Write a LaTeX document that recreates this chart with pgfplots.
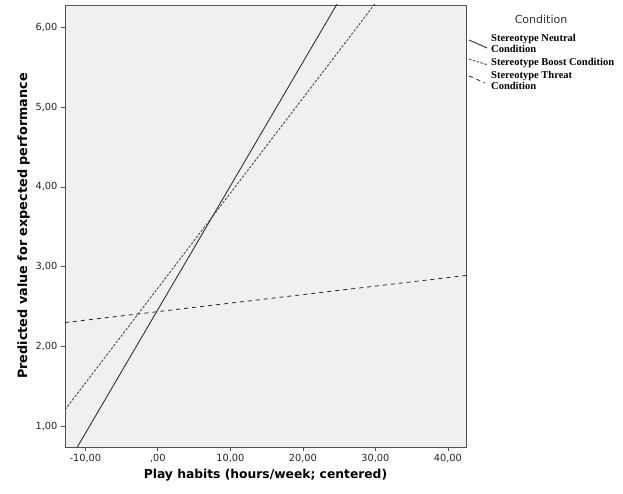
\documentclass[border=0pt]{standalone}
\usepackage{pgfplots}
\pgfplotsset{compat=1.18}
\usepackage{fontspec}
\setmainfont{DejaVu Sans}
\newfontfamily\legfont{Liberation Serif}
\definecolor{bgc}{HTML}{F0F0F0}
\definecolor{axc}{HTML}{505050}
\begin{document}
\begin{tikzpicture}
\begin{axis}[
  scale only axis, width=401pt, height=442pt,
  xmin=-12.8, xmax=42.5, ymin=0.74, ymax=6.28,
  axis background/.style={fill=bgc},
  axis line style={axc, line width=0.9pt},
  every tick/.style={axc, line width=0.7pt},
  tick align=outside, major tick length=4pt,
  xtick={-10,0,10,20,30,40},
  xticklabels={{-10,00},{,00},{10,00},{20,00},{30,00},{40,00}},
  ytick={1,2,3,4,5,6},
  yticklabels={{1,00},{2,00},{3,00},{4,00},{5,00},{6,00}},
  xtick pos=bottom, ytick pos=left,
  tick label style={font=\fontsize{9.8}{11}\selectfont, text=black!85},
  xlabel={\bfseries Play habits (hours/week; centered)},
  ylabel={\bfseries Predicted value for expected performance},
  xlabel style={font=\fontsize{12.3}{14}\selectfont, yshift=1pt},
  ylabel style={font=\fontsize{12.8}{14}\selectfont, yshift=-1pt},
  clip=true,
]
% Stereotype Neutral Condition
\addplot[black!80, line width=0.9pt] coordinates {(-12.8,0.476) (42.5,9.05)};
% Stereotype Boost Condition
\addplot[black!70, line width=0.9pt, dash pattern=on 2.5pt off 1.5pt] coordinates {(-12.8,1.207) (42.5,7.79)};
% Stereotype Threat Condition
\addplot[black!85, line width=0.8pt, dash pattern=on 4pt off 4pt] coordinates {(-12.8,2.30) (42.5,2.89)};
\end{axis}
% legend (outside the axis, right of the plot box)
\node[anchor=center, font=\fontsize{11}{13}\selectfont, text=black!80] at (476pt,428pt) {Condition};
\draw[black!80, line width=0.9pt] (404pt,407pt) -- (422pt,399pt);
\draw[black!70, line width=0.9pt, dash pattern=on 2.5pt off 1.5pt] (404pt,388pt) -- (423pt,382pt);
\draw[black!85, line width=0.8pt, dash pattern=on 4pt off 4pt] (404pt,371pt) -- (420pt,364pt);
\node[anchor=north west, align=left, inner sep=0pt, font=\legfont\fontsize{10.5}{11.5}\selectfont\bfseries] at (426pt,413pt) {Stereotype Neutral\\Condition};
\node[anchor=north west, align=left, inner sep=0pt, font=\legfont\fontsize{10.5}{11.5}\selectfont\bfseries] at (426pt,389pt) {Stereotype Boost Condition};
\node[anchor=north west, align=left, inner sep=0pt, font=\legfont\fontsize{10.5}{11.5}\selectfont\bfseries] at (426pt,376pt) {Stereotype Threat\\Condition};
\pgfresetboundingbox
\path (-65pt,-47pt) rectangle (558pt,447pt);
\end{tikzpicture}
\end{document}
